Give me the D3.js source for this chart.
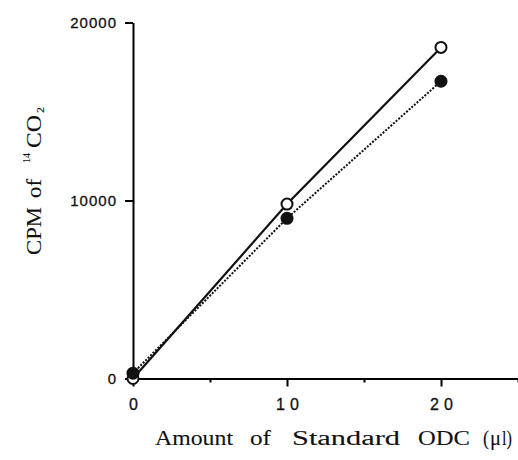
<!DOCTYPE html>
<html>
<head>
<meta charset="utf-8">
<script src="https://cdn.jsdelivr.net/npm/d3@7"></script>
<style>
  body { margin: 0; background: #fff; }
  svg { display: block; }
</style>
</head>
<body>
<div id="chart"></div>
<script>
// volume of standard ODC (ul)
const amounts = [0, 10, 20];
// open circles, solid line
const openCpm = [0, 9800, 18600];
// filled circles, dotted line
const filledCpm = [300, 9000, 16700];

const xMajorTicks = [0, 10, 20];
const xMinorTicks = [5, 15, 25];
const yTicks = [0, 10000, 20000];

const width = 518, height = 460;
const ink = "#111";

const svg = d3.select("#chart")
  .append("svg")
  .attr("width", width)
  .attr("height", height);

const x = d3.scaleLinear().domain([0, 25]).range([133, 518]);
const y = d3.scaleLinear().domain([0, 20000]).range([378.5, 22.5]);

// x axis, major ticks with labels
const xAxis = svg.append("g")
  .attr("transform", "translate(0," + y(0) + ")")
  .call(d3.axisBottom(x).tickValues(xMajorTicks).tickSize(8).tickSizeOuter(0).tickPadding(12));
xAxis.select(".domain").attr("stroke-width", 2);
xAxis.selectAll(".tick line").attr("stroke-width", 2);
xAxis.selectAll(".tick text")
  .attr("font-family", "Liberation Sans, Arial, sans-serif")
  .attr("font-size", 16)
  .attr("letter-spacing", "5px")
  .attr("dx", 2.5)
  .attr("fill", ink)
  .attr("stroke", ink)
  .attr("stroke-width", 0.3);

// x axis, minor ticks
const xMinor = svg.append("g")
  .attr("transform", "translate(0," + y(0) + ")")
  .call(d3.axisBottom(x).tickValues(xMinorTicks).tickSize(4).tickFormat(""));
xMinor.select(".domain").remove();
xMinor.selectAll(".tick line").attr("stroke-width", 2);

// y axis
const yAxis = svg.append("g")
  .attr("transform", "translate(" + x(0) + ",0)")
  .call(d3.axisLeft(y).tickValues(yTicks).tickSize(8).tickSizeOuter(0).tickPadding(8).tickFormat(d3.format("d")));
yAxis.select(".domain").attr("stroke-width", 2);
yAxis.selectAll(".tick line").attr("stroke-width", 2);
yAxis.selectAll(".tick text")
  .attr("font-family", "Liberation Sans, Arial, sans-serif")
  .attr("font-size", 15)
  .attr("letter-spacing", "1px")
  .attr("fill", ink)
  .attr("stroke", ink)
  .attr("stroke-width", 0.3);

// lines
const line = d3.line()
  .x(function (d) { return x(d[0]); })
  .y(function (d) { return y(d[1]); });

const openPts = amounts.map(function (a, i) { return [a, openCpm[i]]; });
const filledPts = amounts.map(function (a, i) { return [a, filledCpm[i]]; });

svg.append("path")
  .datum(filledPts)
  .attr("d", line)
  .attr("fill", "none")
  .attr("stroke", ink)
  .attr("stroke-width", 2)
  .attr("stroke-dasharray", "2,1.5");

svg.append("path")
  .datum(openPts)
  .attr("d", line)
  .attr("fill", "none")
  .attr("stroke", ink)
  .attr("stroke-width", 2.2);

// markers
svg.selectAll(".open")
  .data(openPts)
  .enter()
  .append("circle")
  .attr("class", "open")
  .attr("cx", function (d) { return x(d[0]); })
  .attr("cy", function (d) { return y(d[1]); })
  .attr("r", 5.5)
  .attr("fill", "#fff")
  .attr("stroke", ink)
  .attr("stroke-width", 2);

svg.selectAll(".filled")
  .data(filledPts)
  .enter()
  .append("circle")
  .attr("class", "filled")
  .attr("cx", function (d) { return x(d[0]); })
  .attr("cy", function (d) { return y(d[1]); })
  .attr("r", 6.5)
  .attr("fill", ink);

// titles are set word by word, the print has wide, uneven gaps
// [text, start, length, font size, baseline shift]
function setWords(textSel, words) {
  words.forEach(function (w) {
    textSel.append("tspan")
      .attr("x", w[1])
      .attr("y", w[4])
      .attr("font-size", w[3])
      .attr("textLength", w[2])
      .attr("lengthAdjust", "spacingAndGlyphs")
      .text(w[0]);
  });
}

const xTitle = svg.append("text")
  .attr("transform", "translate(155,445)")
  .attr("font-family", "Liberation Serif, Times New Roman, serif")
  .attr("fill", ink)
  .attr("stroke", ink)
  .attr("stroke-width", 0.1);
setWords(xTitle, [
  ["Amount", 0, 78, 20, 0],
  ["of", 95, 21, 20, 0],
  ["Standard", 137, 108, 20, 0],
  ["ODC", 263, 52, 20, 0],
  ["(", 328, 6, 20, 0],
  ["\u03bc", 335, 11, 20, 0],
  ["l)", 347, 10, 20, 0]
]);

const yTitle = svg.append("text")
  .attr("transform", "translate(41,255) rotate(-90)")
  .attr("font-family", "Liberation Serif, Times New Roman, serif")
  .attr("fill", ink)
  .attr("stroke", ink)
  .attr("stroke-width", 0.1);
setWords(yTitle, [
  ["CPM", 0, 48, 20, 0],
  ["of", 57, 19, 20, 0],
  ["14", 92, 10, 11, -11],
  ["CO", 107, 33, 20, 0],
  ["2", 142, 6, 11, 3]
]);
</script>
</body>
</html>
